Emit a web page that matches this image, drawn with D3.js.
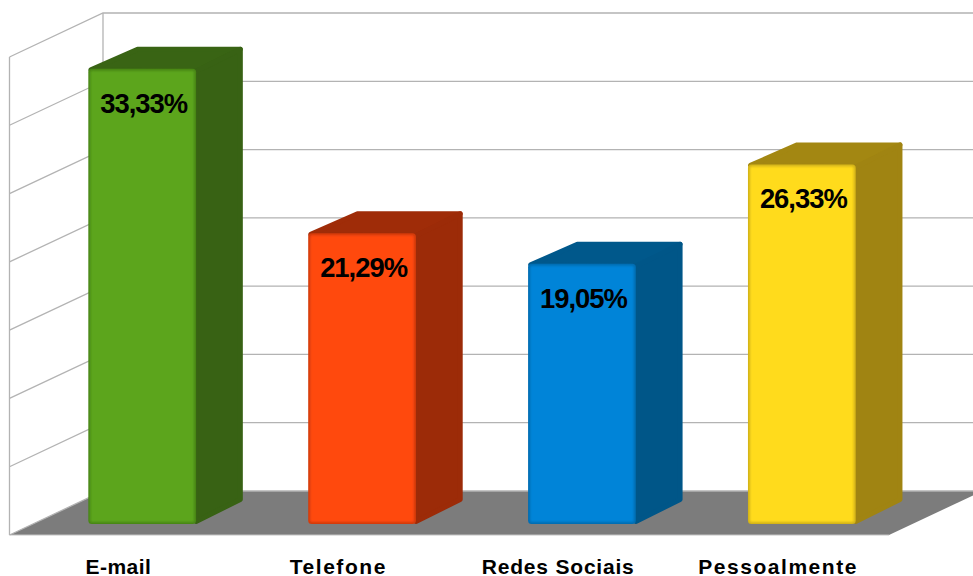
<!DOCTYPE html>
<html>
<head>
<meta charset="utf-8">
<script src="https://cdnjs.cloudflare.com/ajax/libs/d3/7.8.5/d3.min.js"></script>
<style>
  html, body { margin: 0; padding: 0; background: #fff; overflow: hidden; }
  svg { display: block; }
  text { font-family: "Liberation Sans", Arial, sans-serif; font-weight: bold; fill: #000; }
</style>
</head>
<body>
<div id="chart"></div>
<script>
const categories = ["E-mail", "Telefone", "Redes Sociais", "Pessoalmente"];
const values = [33.33, 21.29, 19.05, 26.33];
const labels = ["33,33%", "21,29%", "19,05%", "26,33%"];
const gridTicks = [0, 5, 10, 15, 20, 25, 30, 35];
const frontColors = ["#5ca51e", "#ff4810", "#0084d8", "#ffdb1f"];
const edgeColors = ["#478516", "#d03a0c", "#006cb0", "#d2b218"];
const sideColors = ["#386214", "#9c2b08", "#005688", "#a08412"];
const labelSpacing = [0.5, 1.55, 0.8, 1.55];

const width = 973, height = 576;
const depthX = 93.5, depthY = 44;   // wall depth in screen px
const barDepth = 0.5;               // bars take the middle half of the floor

const svg = d3.select("#chart").append("svg")
  .attr("width", width)
  .attr("height", height);

svg.append("defs").append("filter")
  .attr("id", "soft")
  .append("feGaussianBlur").attr("stdDeviation", 0.8);

const x = d3.scaleBand().domain(categories).range([9.5, 889]);
// height above the floor, measured on the front plane
const y = d3.scaleLinear().domain([0, 35]).range([535, 57]);

// project (screen x, screen y, depth 0..1) back into the box
const px = (sx, d) => sx + depthX * d;
const py = (sy, d) => sy - depthY * d;
const poly = pts => pts.map(p => p.join(",")).join(" ");

// floor
svg.append("polygon")
  .attr("points", poly([
    [px(x.range()[0], 0), y(0)], [px(x.range()[0], 1), py(y(0), 1)],
    [px(x.range()[1], 1), py(y(0), 1)], [px(x.range()[1], 0), y(0)]
  ]))
  .attr("fill", "#7c7c7c");

// front edge of floor
svg.append("line")
  .attr("x1", x.range()[0]).attr("x2", x.range()[1])
  .attr("y1", y(0)).attr("y2", y(0))
  .attr("stroke", "#c4c4c4").attr("stroke-width", 1.2);

// gridlines, side wall then back wall
const grid = svg.append("g").attr("fill", "none").attr("stroke", "#b3b3b3").attr("stroke-width", 1.3);
gridTicks.forEach(t => {
  grid.append("polyline")
    .attr("points", poly([
      [px(x.range()[0], 0), y(t)],
      [px(x.range()[0], 1), py(y(t), 1)],
      [width + 20, py(y(t), 1)]
    ]));
});
grid.append("line")
  .attr("x1", x.range()[0]).attr("x2", x.range()[0])
  .attr("y1", y(0)).attr("y2", y(35));
grid.append("line")
  .attr("x1", px(x.range()[0], 1)).attr("x2", px(x.range()[0], 1))
  .attr("y1", py(y(0), 1)).attr("y2", py(y(35), 1));

// bars
const barW = x.bandwidth() * 0.49;
const d0 = (1 - barDepth) / 2, d1 = d0 + barDepth;
const r = 2.5;   // corner rounding of the back faces

const bars = svg.selectAll("g.bar")
  .data(categories.map((c, i) => ({ c, i, v: values[i], label: labels[i] })))
  .join("g")
  .attr("class", "bar");

bars.each(function (d) {
  const g = d3.select(this);
  const left = x(d.c) + (x.bandwidth() - barW) / 2 - 0.6;
  const right = left + barW;
  const top = y(d.v), bottom = y(0);

  const fL = px(left, d0), fR = px(right, d0), bL = px(left, d1), bR = px(right, d1);
  const fT = py(top, d0), fB = py(bottom, d0), bT = py(top, d1), bB = py(bottom, d1);

  // top and side faces, round joins give the soft corners
  g.append("polygon")
    .attr("points", poly([[fL + r, fT + 1], [bL + r, bT + r], [bR - r, bT + r], [fR, fT + r]]))
    .attr("fill", d3.color(sideColors[d.i]).brighter(0.06))
    .attr("stroke", d3.color(sideColors[d.i]).brighter(0.06)).attr("stroke-width", r * 2).attr("stroke-linejoin", "round");
  g.append("polygon")
    .attr("points", poly([[fR, fT + r], [bR - r, bT + r], [bR - r, bB - r], [fR, fB - r]]))
    .attr("fill", sideColors[d.i])
    .attr("stroke", sideColors[d.i]).attr("stroke-width", r * 2).attr("stroke-linejoin", "round");

  // front face
  g.append("rect")
    .attr("x", fL).attr("y", fT)
    .attr("width", fR - fL).attr("height", fB - fT)
    .attr("rx", 3.5).attr("ry", 3.5)
    .attr("fill", edgeColors[d.i]);
  g.append("rect")
    .attr("x", fL + 2).attr("y", fT + 2)
    .attr("width", fR - fL - 4).attr("height", fB - fT - 4)
    .attr("rx", 1.5).attr("ry", 1.5)
    .attr("fill", frontColors[d.i])
    .attr("filter", "url(#soft)");

  g.append("text")
    .attr("x", (fL + fR) / 2 + 1.5)
    .attr("y", fT + 44)
    .attr("text-anchor", "middle")
    .style("font-size", "27.4px")
    .style("letter-spacing", "-1px")
    .text(d.label);
});

// category labels on the front plane
svg.append("g").selectAll("text")
  .data(categories)
  .join("text")
  .attr("x", d => x(d) + x.bandwidth() / 2 - 1)
  .attr("y", 573.5)
  .attr("text-anchor", "middle")
  .style("font-size", "21px")
  .style("letter-spacing", (d, i) => labelSpacing[i] + "px")
  .text(d => d);
</script>
</body>
</html>
